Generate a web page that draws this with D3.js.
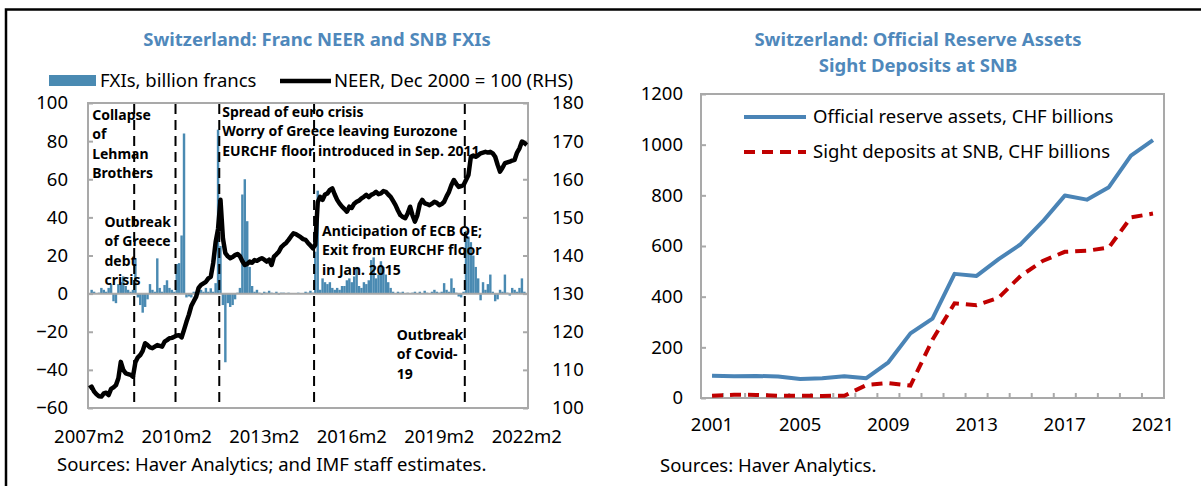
<!DOCTYPE html>
<html>
<head>
<meta charset="utf-8">
<title>Switzerland: Franc NEER and SNB FXIs</title>
<style>
  body { margin: 0; background: #fff; }
  text { font-family: "Noto Sans", "Open Sans", sans-serif; }
</style>
</head>
<body>
<svg id="svg" width="1201" height="486"></svg>
<script src="https://cdn.jsdelivr.net/npm/d3@7"></script>
<script>
// ---- left chart: monthly, 2007m2 .. 2022m2 ----
const startYear = 2007, startMonth = 2;

// NEER, Dec 2000 = 100 (RHS)
const neer = [
  105.2, 105.6, 104.3, 103.6, 103.1, 103.0, 103.8, 104.0, 103.4, 105.0, 105.4, 106.0,
  107.8, 112.1, 110.0, 109.1, 108.9, 108.7, 108.2, 112.0, 113.3, 113.9, 115.0, 117.0,
  116.5, 115.9, 115.7, 116.1, 116.5, 116.3, 116.1, 117.4, 117.8, 118.3, 118.4, 118.7,
  119.0, 119.1, 118.5, 120.5, 122.6, 124.5, 126.8, 128.0, 129.2, 131.5, 132.3, 132.7,
  133.1, 134.0, 134.4, 138.0, 143.5, 147.0, 154.6, 144.5, 140.6, 139.8, 139.3, 139.6,
  140.1, 140.4, 139.8, 138.5, 137.5, 137.8, 138.4, 138.1, 138.8, 138.6, 139.0, 139.3,
  138.9, 138.4, 138.9, 137.5, 139.7, 140.3, 141.0, 142.2, 142.8, 143.3, 144.1, 145.0,
  145.8, 145.6, 145.2, 144.8, 144.3, 144.1, 143.3, 142.6, 141.9, 142.8, 154.0, 155.4,
  154.6, 156.0, 156.3, 157.2, 157.6, 156.0, 154.6, 153.6, 152.8, 152.2, 151.5, 152.8,
  152.5, 153.6, 154.1, 154.4, 155.0, 155.4, 155.9, 155.3, 155.9, 156.2, 156.7, 156.1,
  156.3, 156.9, 156.7, 156.0, 155.4, 154.3, 153.2, 151.8, 150.6, 150.1, 149.8, 151.0,
  152.8, 150.5, 148.9, 150.6, 153.5, 154.6, 153.7, 153.5, 153.2, 153.6, 154.1, 153.8,
  153.2, 153.5, 154.1, 155.5, 156.7, 158.5, 159.8, 158.8, 158.0, 158.2, 158.5, 159.8,
  161.1, 165.9, 166.2, 165.9, 166.3, 166.8, 167.0, 167.2, 167.0, 167.2, 166.8, 165.9,
  163.8, 162.0, 163.0, 164.2, 164.4, 164.6, 164.9, 165.1, 167.0, 168.1, 169.9, 169.5,
  169.0
];

// FXIs, billion francs
const fxi = [
  0, 2, 1, 0, 0.5, 3, 2, 1, 3, 5, -4, -5,
  5, 6, 9, 4, 2, 1, 2, 18.5, -2, -6, -10, -7,
  -3, 5, 2, 1, 18.5, 3, 1, 4.5, 7, 3, 2, 1,
  15.5, 16, 30.5, 84, -2, -1.5, -2, 1, 0.5, 1.5, 2, 1,
  3, 1, 2.8, 1, 5.5, 86, 25, -6, -36, -5, -7, -6,
  -3, 0.5, 3, 52, 60, 38, 14, 4, 1, 2, 0.5, -0.5,
  1, 0.5, 1.5, 0.5, 0, 1, -0.5, 0.5, 0.5, 0, 0.5, 0,
  0.3, 0, 0.5, 0.3, 0, 1, 0.5, 1.5, 0.5, 22, 54, 2,
  8, 6, 5, 6, 3, 2, 3, 2, 4, 4, 7, 8,
  6, 9, 14, 4, 3, 6, 5, 7, 17.6, 19, 8, 10,
  17, 14, 10, 6, 3, 1, 0, 1, 0.5, 1, 0, 0.5,
  0, 0.5, 1, 0, 1, 0.3, 1.5, 0.5, 0, 1, 2, 1,
  0.5, 1, 5.5, 2, 1, 8, 3, 0.5, -1.5, -2, 1, 33,
  30, 27, 20, 14, 8, -3.5, 6, 2, 5, 10, 1, -4,
  -3, 2, 1, 10, 0.5, -1, 3, 2, 1, 3, 8, 1,
  0
];

const monthTicks = ["2007m2", "2010m2", "2013m2", "2016m2", "2019m2", "2022m2"];
const leftTicks = [-60, -40, -20, 0, 20, 40, 60, 80, 100];
const rightTicks = [100, 110, 120, 130, 140, 150, 160, 170, 180];

// event lines and their notes
const events = [
  { month: "2008m9", lines: ["Collapse", "of", "Lehman", "Brothers"], dx: -42, top: 115 },
  { month: "2010m2", lines: ["Outbreak", "of Greece", "debt", "crisis"], dx: -71, top: 222 },
  { month: "2011m8", lines: ["Spread of euro crisis", "Worry of Greece leaving Eurozone", "EURCHF floor introduced in Sep. 2011"], dx: 3, top: 112 },
  { month: "2014m11", lines: ["Anticipation of ECB QE;", "Exit from EURCHF floor", "in Jan. 2015"], dx: 8, top: 231 },
  { month: "2020m1", lines: ["Outbreak", "of Covid-", "19"], dx: -68, top: 335 }
];

// ---- right chart: annual ----
const years = [2001, 2002, 2003, 2004, 2005, 2006, 2007, 2008, 2009, 2010, 2011,
  2012, 2013, 2014, 2015, 2016, 2017, 2018, 2019, 2020, 2021];
const reserves = [88, 86, 87, 85, 75, 78, 86, 78, 141, 255, 313, 490, 482, 548, 607, 697, 799, 783, 832, 957, 1018];
const sightDeposits = [9, 13, 12, 9, 9, 8, 9, 51, 59, 49, 230, 374, 366, 396, 482, 541, 577, 581, 594, 713, 728];
const yearTicks = [2001, 2005, 2009, 2013, 2017, 2021];
const reserveTicks = [0, 200, 400, 600, 800, 1000, 1200];

const titleColor = "#4f88bb";
const barColor = "#4a8ab2";
const frameColor = "#a9a9a9";
const blueLine = "#4a84b6";
const redLine = "#c00000";
const fs = 18.5;

const svg = d3.select("#svg");
svg.append("rect").attr("width", 1201).attr("height", 486).attr("fill", "#fff");

// outer frame (top + left edge)
svg.append("path")
  .attr("d", "M6,490V9.5H1201")
  .attr("fill", "none").attr("stroke", "#000").attr("stroke-width", 2.5);

// ================= left chart =================
const L = { left: 88, right: 528, top: 103, bottom: 408 };

const months = neer.map((d, i) => {
  let m = startMonth - 1 + i;
  return `${startYear + Math.floor(m / 12)}m${(m % 12) + 1}`;
});

let x = d3.scaleBand().domain(months).range([L.left, L.right]).paddingInner(0);
let yL = d3.scaleLinear().domain([-60, 100]).range([L.bottom, L.top]);
let yR = d3.scaleLinear().domain([100, 180]).range([L.bottom, L.top]);

svg.append("text")
  .attr("x", 317).attr("y", 40).attr("dy", "0.35em")
  .attr("text-anchor", "middle")
  .attr("font-size", 18.5).attr("font-weight", "bold")
  .attr("fill", titleColor)
  .text("Switzerland: Franc NEER and SNB FXIs");

// legend
svg.append("rect").attr("x", 49).attr("y", 75).attr("width", 47).attr("height", 11).attr("fill", barColor);
svg.append("text").attr("x", 100).attr("y", 81).attr("dy", "0.35em").attr("font-size", fs)
  .text("FXIs, billion francs");
svg.append("line").attr("x1", 280).attr("x2", 331).attr("y1", 81).attr("y2", 81)
  .attr("stroke", "#000").attr("stroke-width", 4.5);
svg.append("text").attr("x", 334).attr("y", 81).attr("dy", "0.35em").attr("font-size", fs)
  .text("NEER, Dec 2000 = 100 (RHS)");

let left = svg.append("g");

// bars
left.selectAll("rect.bar")
  .data(fxi)
  .join("rect")
  .attr("class", "bar")
  .attr("x", (d, i) => x(months[i]))
  .attr("width", x.bandwidth())
  .attr("y", d => Math.min(yL(d), yL(0)))
  .attr("height", d => Math.abs(yL(d) - yL(0)))
  .attr("fill", barColor);

// zero line
left.append("line")
  .attr("x1", L.left).attr("x2", L.right)
  .attr("y1", yL(0)).attr("y2", yL(0))
  .attr("stroke", frameColor).attr("stroke-width", 2);

// frame
left.append("rect")
  .attr("x", L.left).attr("y", L.top)
  .attr("width", L.right - L.left).attr("height", L.bottom - L.top)
  .attr("fill", "none").attr("stroke", frameColor).attr("stroke-width", 2);

// axes
let axL = left.append("g")
  .attr("transform", `translate(${L.left},0)`)
  .call(d3.axisLeft(yL).tickValues(leftTicks).tickSize(-5).tickPadding(20));
let axR = left.append("g")
  .attr("transform", `translate(${L.right},0)`)
  .call(d3.axisRight(yR).tickValues(rightTicks).tickSize(-5).tickPadding(24));
let axB = left.append("g")
  .attr("transform", `translate(0,${L.bottom})`)
  .call(d3.axisBottom(x).tickValues(monthTicks).tickSize(0).tickPadding(22));

[axL, axR, axB].forEach(a => {
  a.select(".domain").remove();
  a.selectAll(".tick line").attr("stroke", frameColor).attr("stroke-width", 2);
  a.selectAll(".tick text").attr("font-size", fs).attr("fill", "#000")
    .attr("font-family", '"Noto Sans", "Open Sans", sans-serif');
});

// event notes
events.forEach(e => {
  let t = left.append("text")
    .attr("font-size", 14).attr("font-weight", "bold").attr("fill", "#000");
  e.lines.forEach((s, k) => {
    t.append("tspan")
      .attr("x", x(e.month) + e.dx)
      .attr("y", e.top + k * 19.3)
      .attr("dy", "0.35em")
      .text(s);
  });
});

// event lines
left.selectAll("line.event")
  .data(events)
  .join("line")
  .attr("class", "event")
  .attr("x1", d => x(d.month)).attr("x2", d => x(d.month))
  .attr("y1", L.top + 1).attr("y2", L.bottom)
  .attr("stroke", "#000").attr("stroke-width", 2)
  .attr("stroke-dasharray", "10,6");

// NEER line
left.append("path")
  .datum(neer)
  .attr("fill", "none")
  .attr("stroke", "#000")
  .attr("stroke-width", 4.5)
  .attr("stroke-linejoin", "round")
  .attr("d", d3.line().x((d, i) => x(months[i]) + x.bandwidth() / 2).y(d => yR(d)));

svg.append("text")
  .attr("x", 57).attr("y", 465).attr("dy", "0.35em").attr("font-size", fs)
  .text("Sources: Haver Analytics; and IMF staff estimates.");

// ================= right chart =================
const R = { left: 701, right: 1164, top: 94, bottom: 398 };

let xr = d3.scaleBand().domain(years).range([R.left, R.right]);
let yr = d3.scaleLinear().domain([0, 1200]).range([R.bottom, R.top]);

svg.append("text")
  .attr("x", 918).attr("y", 40).attr("dy", "0.35em")
  .attr("text-anchor", "middle")
  .attr("font-size", 18.5).attr("font-weight", "bold").attr("fill", titleColor)
  .text("Switzerland: Official Reserve Assets");
svg.append("text")
  .attr("x", 918).attr("y", 66).attr("dy", "0.35em")
  .attr("text-anchor", "middle")
  .attr("font-size", 18.5).attr("font-weight", "bold").attr("fill", titleColor)
  .text("Sight Deposits at SNB");

let right = svg.append("g");

right.append("rect")
  .attr("x", R.left).attr("y", R.top)
  .attr("width", R.right - R.left).attr("height", R.bottom - R.top)
  .attr("fill", "none").attr("stroke", frameColor).attr("stroke-width", 2);

// category boundary ticks
right.selectAll("line.xtick")
  .data(years.slice(1))
  .join("line")
  .attr("class", "xtick")
  .attr("x1", d => xr(d)).attr("x2", d => xr(d))
  .attr("y1", R.bottom).attr("y2", R.bottom - 5)
  .attr("stroke", frameColor).attr("stroke-width", 2);

let ayr = right.append("g")
  .attr("transform", `translate(${R.left},0)`)
  .call(d3.axisLeft(yr).tickValues(reserveTicks).tickFormat(d3.format("d")).tickSize(-5).tickPadding(18));
let axr = right.append("g")
  .attr("transform", `translate(0,${R.bottom})`)
  .call(d3.axisBottom(xr).tickValues(yearTicks).tickSize(0).tickPadding(20));

[ayr, axr].forEach(a => {
  a.select(".domain").remove();
  a.selectAll(".tick line").attr("stroke", frameColor).attr("stroke-width", 2);
  a.selectAll(".tick text").attr("font-size", fs).attr("fill", "#000")
    .attr("font-family", '"Noto Sans", "Open Sans", sans-serif');
});

let lineR = d3.line().x((d, i) => xr(years[i]) + xr.bandwidth() / 2).y(d => yr(d));

right.append("path")
  .datum(sightDeposits)
  .attr("fill", "none").attr("stroke", redLine).attr("stroke-width", 4)
  .attr("stroke-dasharray", "11,7")
  .attr("d", lineR);

right.append("path")
  .datum(reserves)
  .attr("fill", "none").attr("stroke", blueLine).attr("stroke-width", 4)
  .attr("stroke-linejoin", "round")
  .attr("d", lineR);

// legend
right.append("line").attr("x1", 744).attr("x2", 806).attr("y1", 117).attr("y2", 117)
  .attr("stroke", blueLine).attr("stroke-width", 4);
right.append("text").attr("x", 813).attr("y", 117).attr("dy", "0.35em").attr("font-size", fs)
  .text("Official reserve assets, CHF billions");
right.append("line").attr("x1", 744).attr("x2", 806).attr("y1", 152).attr("y2", 152)
  .attr("stroke", redLine).attr("stroke-width", 4).attr("stroke-dasharray", "11,7");
right.append("text").attr("x", 813).attr("y", 152).attr("dy", "0.35em").attr("font-size", fs)
  .text("Sight deposits at SNB, CHF billions");

svg.append("text")
  .attr("x", 660).attr("y", 466).attr("dy", "0.35em").attr("font-size", fs)
  .text("Sources: Haver Analytics.");
</script>
</body>
</html>
